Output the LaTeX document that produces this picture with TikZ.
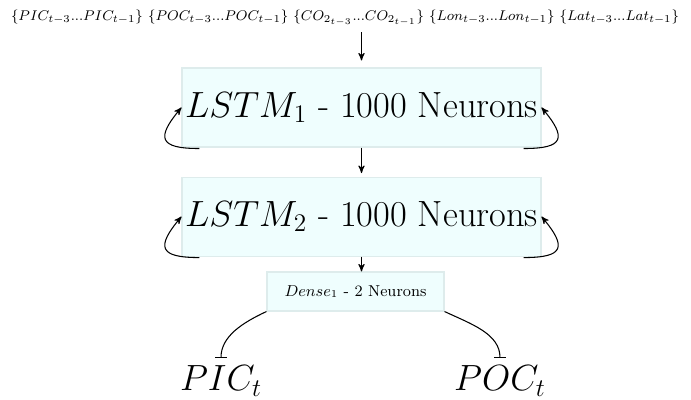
\documentclass[tikz,border=0pt]{standalone}
\usepackage{amssymb,amsmath}
\usepackage{xcolor}
\usepackage{tikz}
\usetikzlibrary{arrows}
\usetikzlibrary{positioning}
\definecolor{boxfill}{RGB}{239,254,254}
\definecolor{boxline}{RGB}{222,236,236}
\tikzset{
	layer node/.style={rectangle,draw=boxline,fill=boxfill,font=\huge,
		minimum width=7.18cm,minimum height=1.58cm,inner sep=0pt},
	dense node/.style={rectangle,draw=boxline,fill=boxfill,font=\small,
		minimum width=3.54cm,minimum height=0.78cm,inner sep=0pt},
	out node/.style={font=\huge,inner sep=1pt}
}

\begin{document}
\begin{tikzpicture}[->,>=stealth',semithick]
	\useasboundingbox (0,0) rectangle (13.82,-8);
	\node [font=\fontsize{8.5}{10}\selectfont] (inp) at (6.9,-0.36)
		{$\{PIC_{t-3}...PIC_{t-1}\}$ $\{POC_{t-3}...POC_{t-1}\}$ $\{CO_{2_{t-3}}...CO_{2_{t-1}}\}$ $\{Lon_{t-3}...Lon_{t-1}\}$ $\{Lat_{t-3}...Lat_{t-1}\}$};
	\node [layer node] (lstm1) at (7.23,-2.15) {$LSTM_1$ - 1000 Neurons};
	\node [layer node,below=0.58cm of lstm1] (lstm2) {$LSTM_2$ - 1000 Neurons};
	\node [dense node] (dense) at (7.11,-5.83) {$Dense_1$ - 2 Neurons};
	\node [out node] (pic) at (4.42,-7.62) {$PIC_t$};
	\node [out node] (poc) at (10,-7.62) {$POC_t$};
	% vertical flow
	\draw [shorten >=4pt] (inp.south -| lstm1.north) -- (lstm1.north);
	\draw [shorten >=2pt] (lstm1.south) -- (lstm2.north);
	\draw (lstm2.south) -- (lstm2.south |- dense.north);
	% recurrent loops
	\foreach \l in {lstm1,lstm2}{
		\draw ([xshift=0.36cm,yshift=-0.02cm]\l.south west) to[out=180,in=230,looseness=2.3] (\l.west);
		\draw ([xshift=-0.36cm,yshift=-0.02cm]\l.south east) to[out=0,in=-50,looseness=2.3] (\l.east);
	}
	% outputs
	\draw [-|,shorten >=3pt] (dense.south west) to[out=205,in=90] (pic.north);
	\draw [-|,shorten >=3pt] (dense.south east) to[out=-25,in=90] (poc.north);
\end{tikzpicture}
\end{document}
